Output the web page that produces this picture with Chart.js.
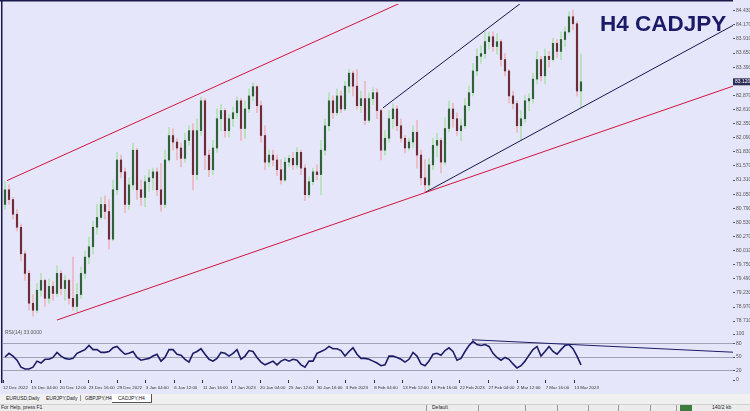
<!DOCTYPE html>
<html>
<head>
<meta charset="utf-8">
<script src="https://cdn.jsdelivr.net/npm/chart.js@4.4.0/dist/chart.umd.min.js"></script>
<style>
  html, body { margin: 0; padding: 0; width: 750px; height: 411px; overflow: hidden; background: #e6e6fa; font-family: "Liberation Sans", Arial, sans-serif; }
  canvas { position: absolute; left: 0; }
  #main { top: 0; }
  #rsi { top: 330px; }
  #title { position: absolute; left: 600px; top: 13px; font: bold 22.5px/1 "Liberation Sans", Arial, sans-serif; color: #1a1a66; white-space: nowrap; }
  #tabs { position: absolute; left: 0; top: 394px; width: 750px; height: 10px; background: #f0f0f0; }
  #status { position: absolute; left: 0; top: 404px; width: 750px; height: 7px; background: #ececec; border-top: 1px solid #d0d0d0; }
  .t { position: absolute; font-size: 5px; line-height: 7px; color: #222; white-space: nowrap; }
  .tab { top: 1px; }
  .active { top: 0; height: 8px; padding: 0 6px; background: #fff; border-right: 1px solid #555; border-bottom: 1px solid #555; line-height: 8px; }
  .sep { position: absolute; top: 1px; width: 1px; height: 6px; background: #999; }
  .box { position: absolute; top: 0; width: 12px; height: 6px; background: #3d7a3d; }
</style>
</head>
<body>
<canvas id="main" width="750" height="330"></canvas>
<canvas id="rsi" width="750" height="64"></canvas>
<div id="title">H4 CADJPY</div>
<div id="tabs">
  <span class="t tab" style="left:6px">EURUSD,Daily</span>
  <span class="t tab" style="left:46px">EURJPY,Daily</span>
  <span class="sep" style="left:80px"></span>
  <span class="t tab" style="left:85px">GBPJPY,H4</span>
  <span class="t tab active" style="left:112px">CADJPY,H4</span>
</div>
<div id="status">
  <span class="t" style="left:1px;top:-1px">For Help, press F1</span>
  <span class="sep" style="left:426px;top:0"></span>
  <span class="t" style="left:432px;top:-1px">Default</span>
  <span class="sep" style="left:478px;top:0"></span>
  <span class="sep" style="left:525px;top:0"></span>
  <span class="sep" style="left:557px;top:0"></span>
  <span class="sep" style="left:588px;top:0"></span>
  <span class="sep" style="left:618px;top:0"></span>
  <span class="sep" style="left:650px;top:0"></span>
  <span class="sep" style="left:676px;top:0"></span>
  <span class="box" style="left:680px"></span>
  <span class="t" style="left:712px;top:-1px">140/2 kb</span>
</div>
<script>
// H4 candles (each bar here ~ two H4 bars), prices
const closes = [
  81.13, 80.95, 80.68, 80.44, 79.95, 79.59, 79.04, 78.91, 79.28, 79.46,
  79.13, 79.35, 79.22, 79.59, 79.31, 79.46, 79.13, 78.98, 79.20, 79.59,
  79.89, 80.08, 80.44, 80.62, 80.86, 80.73, 80.22, 81.13, 81.68, 81.46,
  80.86, 81.22, 81.86, 81.13, 80.99, 81.28, 81.35, 81.46, 81.13, 80.86,
  81.68, 82.13, 82.01, 81.90, 81.71, 82.04, 82.22, 81.41, 82.22, 82.77,
  81.77, 81.50, 81.90, 82.44, 82.59, 82.22, 82.44, 82.55, 82.77, 82.26,
  82.62, 82.86, 83.03, 82.68, 82.13, 81.64, 81.77, 81.68, 81.50, 81.31,
  81.64, 81.71, 81.59, 81.82, 81.53, 81.04, 81.28, 81.46, 81.41, 81.86,
  82.31, 82.77, 82.55, 82.86, 82.62, 83.04, 83.28, 83.04, 82.68, 82.81,
  82.41, 82.81, 82.92, 82.59, 81.86, 82.08, 82.44, 82.62, 82.31, 82.08,
  81.90, 82.01, 82.19, 81.77, 81.35, 81.22, 81.59, 81.95, 82.04, 81.64,
  82.26, 82.62, 82.44, 82.22, 82.31, 82.68, 82.92, 83.32, 83.59, 83.64,
  83.86, 83.95, 83.77, 83.86, 83.53, 83.32, 82.86, 82.72, 82.31, 82.44,
  82.77, 82.81, 83.17, 83.53, 83.23, 83.59, 83.53, 83.83, 83.68, 83.90,
  84.04, 84.32, 84.19, 82.95, 83.12
];
const highs = [
  81.28, 81.22, 80.99, 80.77, 80.50, 80.00, 79.64, 79.20, 79.40, 79.59,
  79.49, 79.49, 79.44, 79.73, 79.64, 79.55, 79.49, 79.89, 79.40, 79.71,
  80.00, 80.26, 80.55, 80.86, 80.99, 81.02, 80.95, 81.31, 81.82, 81.77,
  81.53, 81.35, 81.99, 81.90, 81.31, 81.39, 81.50, 81.53, 81.53, 81.62,
  81.86, 82.28, 82.26, 82.08, 81.99, 82.17, 82.31, 82.35, 82.44, 82.84,
  82.81, 81.86, 82.04, 82.62, 82.70, 82.62, 82.52, 82.66, 82.84, 82.81,
  82.77, 82.99, 83.10, 83.06, 82.77, 82.31, 81.86, 81.86, 81.77, 81.68,
  81.73, 81.77, 81.82, 81.91, 81.86, 81.59, 81.37, 81.53, 81.59, 82.04,
  82.44, 82.92, 82.86, 82.99, 82.95, 83.13, 83.35, 83.32, 83.35, 82.95,
  83.13, 82.92, 83.01, 82.99, 82.62, 82.22, 82.59, 82.72, 82.68, 82.44,
  82.13, 82.08, 82.31, 82.41, 81.86, 81.68, 81.71, 82.08, 82.17, 82.08,
  82.46, 82.77, 82.73, 82.55, 82.44, 82.81, 83.04, 83.46, 83.73, 83.79,
  84.04, 84.04, 84.04, 84.01, 83.90, 83.64, 83.35, 82.95, 82.77, 82.59,
  82.86, 82.90, 83.28, 83.68, 83.59, 83.73, 83.68, 83.92, 83.90, 84.04,
  84.14, 84.41, 84.44, 84.23, 83.63
];
const lows = [
  80.77, 80.86, 80.59, 80.37, 79.82, 79.46, 78.91, 78.80, 78.86, 79.17,
  78.98, 79.04, 79.09, 79.17, 79.20, 79.09, 79.02, 78.91, 78.88, 79.13,
  79.49, 79.77, 79.95, 80.31, 80.59, 80.59, 80.04, 80.19, 81.04, 81.35,
  80.71, 80.77, 81.13, 80.95, 80.84, 80.82, 81.10, 81.13, 81.02, 80.73,
  80.80, 81.64, 81.86, 81.68, 81.55, 81.64, 81.95, 81.13, 81.31, 82.13,
  81.50, 81.37, 81.41, 81.82, 82.22, 82.10, 82.10, 82.30, 82.44, 82.04,
  82.08, 82.55, 82.77, 82.55, 82.01, 81.50, 81.55, 81.57, 81.39, 81.24,
  81.28, 81.55, 81.50, 81.53, 81.41, 80.93, 80.99, 81.22, 81.31, 81.04,
  81.77, 82.22, 82.44, 82.50, 82.55, 82.59, 82.92, 82.86, 82.62, 82.55,
  82.33, 82.37, 82.70, 82.44, 81.68, 81.77, 82.01, 82.26, 82.22, 82.01,
  81.81, 81.86, 81.90, 81.53, 81.22, 81.08, 81.13, 81.50, 81.73, 81.44,
  81.59, 82.19, 82.28, 82.13, 82.04, 82.26, 82.59, 82.86, 83.23, 83.46,
  83.55, 83.72, 83.68, 83.63, 83.41, 83.23, 82.73, 82.62, 82.19, 82.04,
  82.37, 82.59, 82.73, 83.08, 83.13, 83.08, 83.39, 83.50, 83.57, 83.53,
  83.77, 84.01, 84.08, 82.86, 82.64
];
const firstOpen = 80.86;

// RSI(14) sub window
const rsiValues = [
  50, 58, 52, 43, 28, 24, 24, 28, 41, 37,
  45, 45, 49, 60, 52, 47, 45, 47, 58, 62,
  66, 75, 66, 66, 60, 60, 62, 70, 73, 64,
  56, 58, 62, 49, 43, 45, 47, 52, 56, 41,
  49, 66, 66, 56, 54, 45, 39, 58, 62, 68,
  56, 45, 41, 47, 60, 58, 52, 58, 66, 45,
  52, 64, 62, 49, 39, 33, 37, 41, 33, 41,
  45, 41, 45, 43, 33, 28, 41, 41, 58, 62,
  66, 73, 68, 68, 64, 52, 62, 70, 56, 47,
  47, 45, 41, 37, 31, 33, 52, 52, 49, 45,
  39, 45, 60, 52, 35, 31, 41, 56, 58, 54,
  64, 70, 62, 43, 47, 62, 75, 84, 77, 75,
  77, 73, 58, 49, 43, 49, 45, 35, 26, 31,
  41, 54, 66, 73, 52, 62, 73, 62, 56, 66,
  75, 77, 68, 52, 33
];

// axis labels
const priceTicks = [
  84.43, 84.17, 83.91, 83.65, 83.39, 83.13, 82.87, 82.61, 82.35, 82.09, 81.83, 81.57,
  81.31, 81.05, 80.79, 80.53, 80.27, 80.01, 79.75, 79.49, 79.23, 78.97, 78.71
];
const rsiTicks = [0, 20, 50, 80, 100];
const rsiLevels = [20, 50, 80];
const dateLabels = [
  '12 Dec 2022', '15 Dec 04:00', '20 Dec 12:00', '23 Dec 16:00', '29 Dec 2022', '3 Jan 04:00',
  '6 Jan 12:00', '11 Jan 16:00', '17 Jan 2023', '20 Jan 04:00', '25 Jan 12:00', '30 Jan 16:00',
  '3 Feb 2023', '8 Feb 04:00', '13 Feb 12:00', '16 Feb 16:00', '22 Feb 2023', '27 Feb 04:00',
  '2 Mar 12:00', '7 Mar 16:00', '13 Mar 2023'
];

// trend lines as [bar index, price]
const redUpper = [[0.5, 81.30], [182, 87.34]];
const redLower = [[13, 78.73], [182, 83.04]];
const blueUpper = [[94.5, 82.64], [182, 87.54]];
const blueLower = [[105, 81.08], [182, 84.16]];
const rsiTrend = [[116.75, 87.5], [182, 60.4]];

// open of each bar is the previous close
const opens = closes.map((c, i) => i === 0 ? firstOpen : closes[i - 1]);
const isUp = i => closes[i] >= opens[i];
const barIdx = closes.map((c, i) => i);
const lastClose = closes[closes.length - 1];

const toPoints = line => line.map(p => ({ x: p[0], y: p[1] }));
const trend = (line, color) => ({
  type: 'line', data: toPoints(line), borderColor: color, borderWidth: 1,
  pointRadius: 0, tension: 0, order: 0
});

const tiny = { size: 5, family: '"Liberation Sans", Arial, sans-serif' };
const tinier = { size: 4.4, family: '"Liberation Sans", Arial, sans-serif' };

// frame lines and current price marker
const mainDecor = {
  id: 'mainDecor',
  afterDraw(chart) {
    const c = chart.ctx;
    const area = chart.chartArea;
    c.save();
    c.fillStyle = '#1a1a4a';
    c.fillRect(1, 0, 1.5, chart.height);
    c.fillRect(0, 0, area.right, 1.5);
    const y = chart.scales.y.getPixelForValue(lastClose);
    c.fillStyle = '#2c2c58';
    c.fillRect(area.right, y - 3.5, 17, 7);
    c.fillStyle = '#ffffff';
    c.font = '5px "Liberation Sans", Arial, sans-serif';
    c.textBaseline = 'middle';
    c.fillText(lastClose.toFixed(3), area.right + 2, y);
    c.restore();
  }
};

const rsiDecor = {
  id: 'rsiDecor',
  afterDraw(chart) {
    const c = chart.ctx;
    c.save();
    c.fillStyle = '#1a1a4a';
    c.fillRect(1, 0, 1.5, 53);
    c.fillStyle = '#555';
    c.font = '5px "Liberation Sans", Arial, sans-serif';
    c.textBaseline = 'top';
    c.fillText('RSI(14) ' + rsiValues[rsiValues.length - 1].toFixed(4), 5, 0);
    c.restore();
  }
};

new Chart(document.getElementById('main'), {
  type: 'bar',
  data: {
    datasets: [
      {
        data: barIdx.map(i => ({ x: i, y: [lows[i], highs[i]] })),
        barThickness: 1, grouped: false, order: 2,
        backgroundColor: ctx => isUp(ctx.dataIndex) ? '#b3e0b3' : '#eab8c1'
      },
      {
        data: barIdx.map(i => ({ x: i, y: [opens[i], closes[i]] })),
        barThickness: 1.5, grouped: false, order: 1, minBarLength: 1,
        backgroundColor: ctx => isUp(ctx.dataIndex) ? '#2f6236' : '#6e2c38'
      },
      trend(redUpper, '#d0143c'),
      trend(redLower, '#d0143c'),
      trend(blueUpper, '#16164e'),
      trend(blueLower, '#16164e')
    ]
  },
  options: {
    responsive: false,
    animation: false,
    events: [],
    devicePixelRatio: 1,
    layout: { padding: { left: 3, top: 2, right: 0, bottom: 2 }, autoPadding: false },
    plugins: { legend: { display: false }, tooltip: { enabled: false } },
    scales: {
      x: { type: 'linear', min: -0.5, max: 182, offset: false, display: false },
      y: {
        position: 'right', min: 78.62, max: 84.554,
        afterFit: s => { s.width = 17; },
        afterBuildTicks: s => { s.ticks = priceTicks.map(v => ({ value: v })); },
        ticks: {
          font: tiny, color: '#555', padding: 1, autoSkip: false,
          callback: v => Math.abs(v - lastClose) < 0.1 ? '' : v.toFixed(3)
        },
        grid: { drawOnChartArea: false, tickLength: 2, tickColor: '#555' },
        border: { display: false }
      }
    }
  },
  plugins: [mainDecor]
});

new Chart(document.getElementById('rsi'), {
  type: 'line',
  data: {
    datasets: [
      {
        data: rsiValues.map((v, i) => ({ x: i, y: v })),
        borderColor: '#1c1c66', borderWidth: 1.6, pointRadius: 0, tension: 0
      },
      {
        data: toPoints(rsiTrend),
        borderColor: '#1c1c66', borderWidth: 1, pointRadius: 0, tension: 0
      }
    ]
  },
  options: {
    responsive: false,
    animation: false,
    events: [],
    devicePixelRatio: 1,
    layout: { padding: { left: 3, top: 2, right: 0, bottom: 0 }, autoPadding: false },
    plugins: { legend: { display: false }, tooltip: { enabled: false } },
    scales: {
      x: {
        type: 'linear', min: -0.5, max: 182, offset: false,
        afterFit: s => { s.height = 14; },
        afterBuildTicks: s => { s.ticks = dateLabels.map((t, k) => ({ value: -0.5 + k * 7.14 })); },
        ticks: {
          align: 'start', autoSkip: false, maxRotation: 0, minRotation: 0,
          font: tinier, color: '#333', padding: 2,
          callback: (v, k) => dateLabels[k]
        },
        grid: { drawOnChartArea: false, tickLength: 3, tickColor: '#333' },
        border: { display: false }
      },
      y: {
        position: 'right', min: 0, max: 100,
        afterFit: s => { s.width = 17; },
        afterBuildTicks: s => { s.ticks = rsiTicks.map(v => ({ value: v })); },
        ticks: { font: tiny, color: '#555', padding: 1, autoSkip: false },
        grid: {
          color: ctx => ctx.tick && rsiLevels.includes(ctx.tick.value) ? '#a2a2b6' : 'rgba(0,0,0,0)',
          tickLength: 2, tickColor: '#555'
        },
        border: { display: false }
      }
    }
  },
  plugins: [rsiDecor]
});
</script>
</body>
</html>
